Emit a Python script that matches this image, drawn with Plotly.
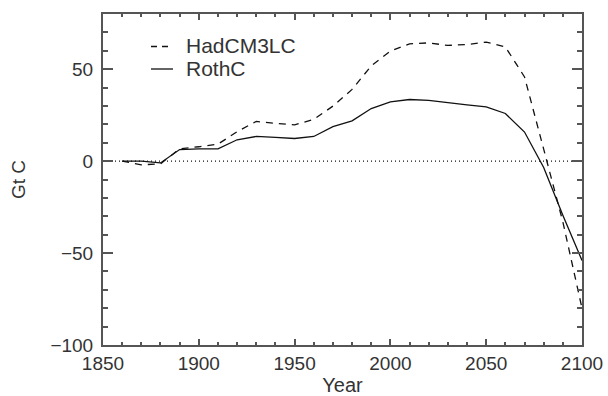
import plotly.graph_objects as go

years = list(range(1860, 2101, 10))
hadcm3lc = [0, -2, -1.5, 6.7, 7.8, 9.2, 16, 21.6, 20.5, 19.7, 22.7, 29.9, 39, 51.8,
            59.8, 63.8, 64.3, 62.9, 63.4, 64.7, 62.1, 45.8, 6.5, -33, -80]
rothc = [0, 0, -1, 6.3, 6.7, 6.7, 11.6, 13.4, 12.9, 12.3, 13.4, 18.7, 21.9, 28.6,
         32.2, 33.5, 33.0, 32.0, 30.6, 29.5, 25.9, 15.8, -3.5, -29.5, -54]

x_ticks = [1850, 1900, 1950, 2000, 2050, 2100]
y_ticks = [-100, -50, 0, 50]
y_ticktext = ["\u2212100", "\u221250", "0", "50"]
series_names = ["HadCM3LC", "RothC"]
series_dash = ["7px,6px", "solid"]

FONT = "Liberation Sans, Arial, sans-serif"
TXT = "#333333"
AX = "#555555"

W, H = 608, 396
ML, MR, MT, MB = 103, 26, 14, 51
PW, PH = W - ML - MR, H - MT - MB


def px_x(p):
    return (p - ML) / PW


def px_y(p):
    return (H - MB - p) / PH


fig = go.Figure()
for name, vals, dash in zip(series_names, [hadcm3lc, rothc], series_dash):
    fig.add_trace(go.Scatter(x=years, y=vals, mode="lines", name=name, showlegend=False,
                             line=dict(color="#111111", width=1.3, dash=dash)))

# dotted zero line
fig.add_shape(type="line", xref="paper", yref="y", x0=0, x1=1, y0=0, y1=0,
              line=dict(color="#111111", width=1.2, dash="1px,3px"), layer="below")

# legend (drawn manually to match the compact reference layout)
for i, (name, dash) in enumerate(zip(series_names, series_dash)):
    yc = 46.5 + i * 22.5
    fig.add_shape(type="line", xref="paper", yref="paper",
                  x0=px_x(151), x1=px_x(173), y0=px_y(yc), y1=px_y(yc),
                  line=dict(color="#111111", width=1.3,
                            dash="6px,5px" if dash != "solid" else "solid"))
    fig.add_annotation(xref="paper", yref="paper", x=px_x(184), y=px_y(yc - 1),
                       text=name, showarrow=False, xanchor="left", yanchor="middle",
                       font=dict(size=21, color=TXT, family=FONT))

fig.update_layout(
    width=W, height=H, autosize=False,
    margin=dict(l=ML, r=MR, t=MT, b=MB),
    plot_bgcolor="white", paper_bgcolor="white",
    font=dict(family=FONT, size=18, color=TXT),
    showlegend=False,
    xaxis=dict(range=[1850, 2100], tickvals=x_ticks, ticks="inside", ticklen=6,
               tickwidth=1.5, tickcolor=AX, showline=True, linecolor=AX, linewidth=2,
               mirror="ticks", showgrid=False, zeroline=False, automargin=False,
               minor=dict(dtick=10, ticks="inside", ticklen=3, tickcolor=AX, tickwidth=1.5),
               title=dict(text="Year", font=dict(size=20), standoff=14),
               tickfont=dict(size=19)),
    yaxis=dict(range=[-100, 80], tickvals=y_ticks, ticktext=y_ticktext,
               ticks="inside", ticklen=10,
               tickwidth=1.5, tickcolor=AX, showline=True, linecolor=AX, linewidth=2,
               mirror="ticks", showgrid=False, zeroline=False, automargin=False,
               minor=dict(dtick=10, ticks="inside", ticklen=5, tickcolor=AX, tickwidth=1.5),
               title=dict(text="Gt C", font=dict(size=19), standoff=20),
               tickfont=dict(size=19), ticklabelstandoff=4),
)

fig.write_html("out.html")
